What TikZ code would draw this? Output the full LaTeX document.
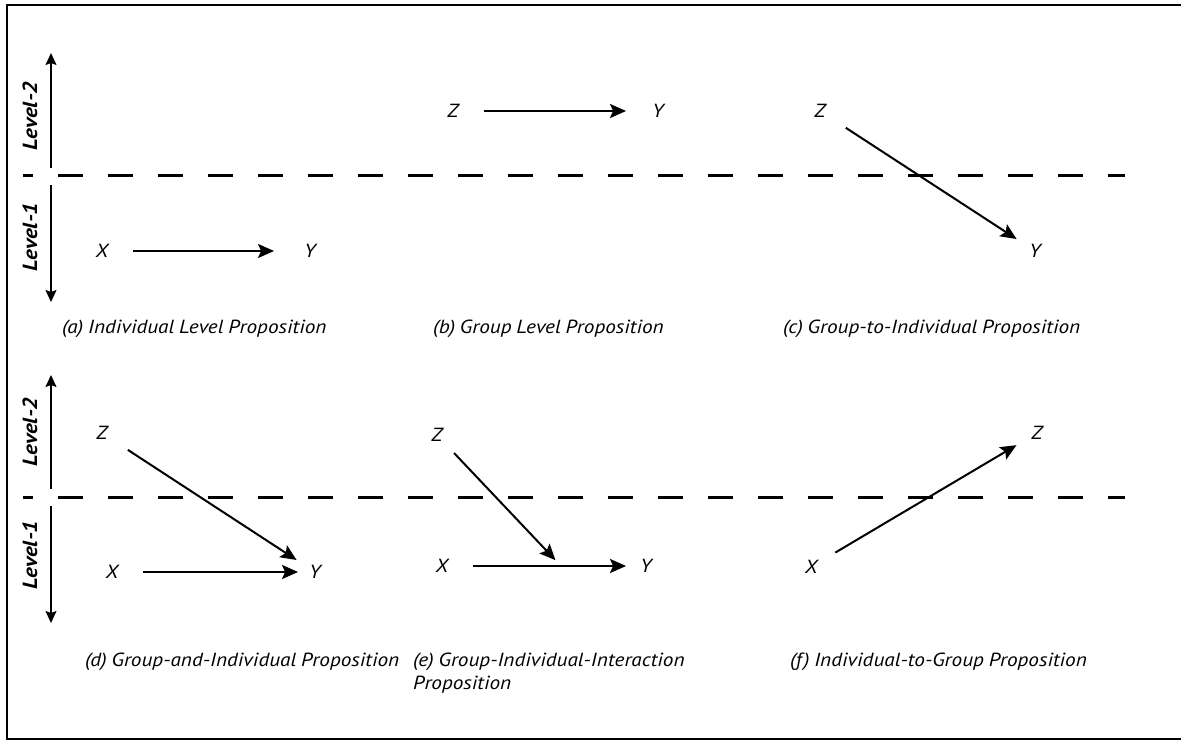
\documentclass[tikz,border=0pt]{standalone}
\usepackage{fontspec}
\setmainfont{PT Sans}[FakeStretch=1.12, WordSpace=0.85]
\usetikzlibrary{arrows.meta}

\begin{document}
\begin{tikzpicture}[x=1pt, y=-1pt,
  font=\fontsize{19}{23}\selectfont\itshape,
  var/.style={circle, inner sep=0pt, minimum size=16pt},
  conn/.style={-{Stealth[length=16pt,width=14pt,inset=3pt]}, line width=2pt,
               shorten <=22pt},
  lvl/.style={-{Stealth[length=12pt,width=11pt,inset=2pt]}, line width=1.6pt},
  lvltxt/.style={rotate=90, font=\fontsize{20.5}{24}\selectfont\bfseries\itshape},
  sep/.style={line width=3pt, dash pattern=on 25pt off 25pt, dash phase=15pt},
  captxt/.style={anchor=base west, inner sep=0pt, align=left}]

\useasboundingbox (0,0) rectangle (1181,741);
% frame, open to the right
\draw[line width=2pt] (1181,5) -- (7,5) -- (7,739) -- (1181,739);

% level scale, upper row
\coordinate (topA)  at (51,53);
\coordinate (midA1) at (51,168);
\coordinate (midA2) at (51,185);
\coordinate (botA)  at (51,302);
\draw[lvl] (midA1) -- (topA);
\draw[lvl] (midA2) -- (botA);
\node[lvltxt] (lv2A) at (30,116) {Level-2};
\node[lvltxt] (lv1A) at (30,237) {Level-1};
\draw[sep] (23,176) -- (1125,176);

% level scale, lower row
\coordinate (topB)  at (51,375);
\coordinate (midB1) at (51,489);
\coordinate (midB2) at (51,506);
\coordinate (botB)  at (51,623);
\draw[lvl] (midB1) -- (topB);
\draw[lvl] (midB2) -- (botB);
\node[lvltxt] (lv2B) at (30,432) {Level-2};
\node[lvltxt] (lv1B) at (30,555) {Level-1};
\draw[sep] (23,497) -- (1125,497);

% (a) individual level
\node[var] (xa) at (102,251) {X};
\node[var] (ya) at (310,251) {Y};
\draw[conn, shorten >=27pt] (xa) -- (ya);
\node[captxt] (capa) at (62,333) {(a) Individual Level Proposition};

% (b) group level
\node[var] (zb) at (453,111) {Z};
\node[var] (yb) at (658,111) {Y};
\draw[conn, shorten >=23pt] (zb) -- (yb);
\node[captxt] (capb) at (433,333) {(b) Group Level Proposition};

% (c) group to individual
\node[var] (zc) at (820,111) {Z};
\node[var] (yc) at (1035,251) {Y};
\draw[conn, shorten >=13pt] (zc) -- (yc);
\node[captxt] (capc) at (783,333) {(c) Group-to-Individual Proposition};

% (d) group and individual
\node[var] (zd) at (102,433) {Z};
\node[var] (xd) at (112,572) {X};
\node[var] (yd) at (315,572) {Y};
\draw[conn, shorten >=13pt] (zd) -- (yd);
\draw[conn, shorten >=8pt]  (xd) -- (yd);
\node[captxt] (capd) at (85,666) {(d) Group-and-Individual Proposition};

% (e) cross-level interaction
\node[var] (ze) at (437,435) {Z};
\node[var] (xe) at (442,566) {X};
\node[var] (ye) at (646,566) {Y};
\coordinate (hit) at (561,566);
\draw[conn, shorten >=11pt] (xe) -- (ye);
\draw[conn, shorten <=16pt, shorten >=8pt] (ze) -- (hit);
\node[captxt] (cape) at (413,689) {(e) Group-Individual-Interaction\\ Proposition};

% (f) individual to group
\node[var] (xf) at (811,567) {X};
\node[var] (zf) at (1037,433) {Z};
\draw[conn, shorten <=19pt, shorten >=15pt] (xf) -- (zf);
\node[captxt] (capf) at (790,666) {(f) Individual-to-Group Proposition};
\end{tikzpicture}
\end{document}
